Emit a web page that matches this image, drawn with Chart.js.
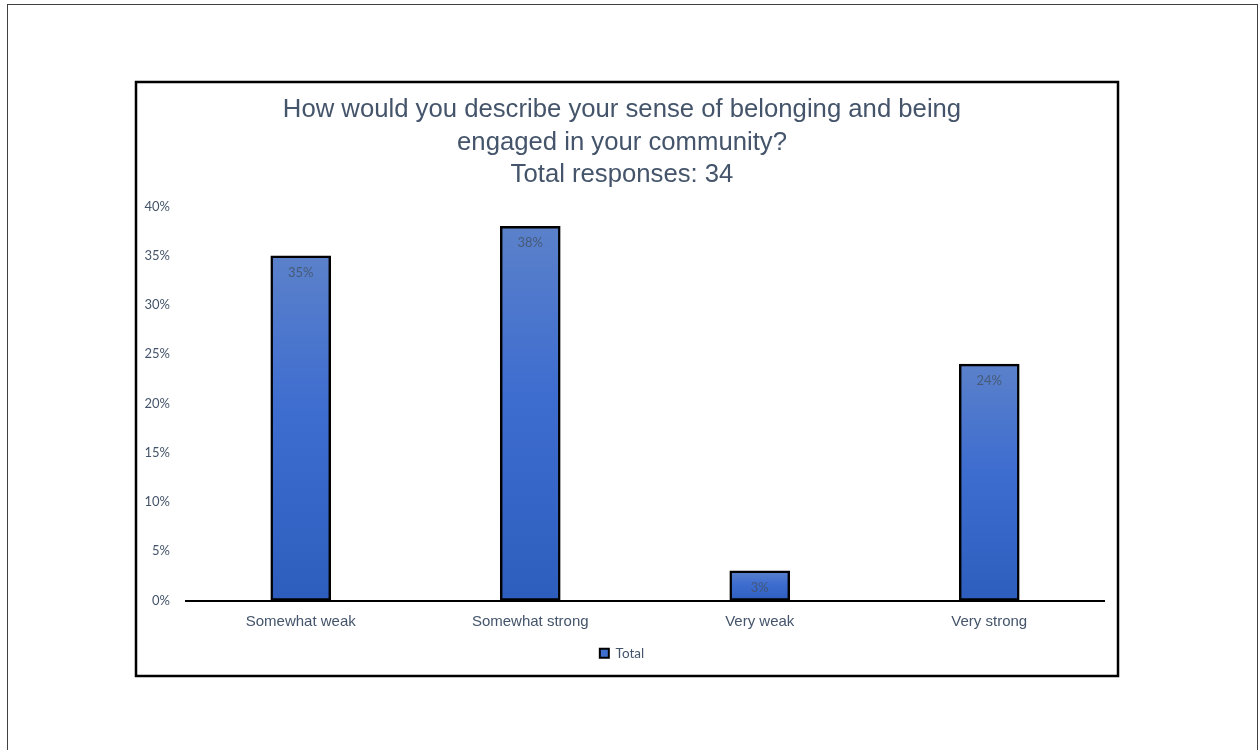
<!DOCTYPE html>
<html>
<head>
<meta charset="utf-8">
<script src="https://cdn.jsdelivr.net/npm/chart.js@4.4.1/dist/chart.umd.min.js"></script>
<style>
  html, body { margin: 0; padding: 0; background: #fff; }
  #wrap { width: 1259px; height: 750px; }
</style>
</head>
<body>
<div id="wrap"><canvas id="chart" width="1259" height="750"></canvas></div>
<script>
const categories = ["Somewhat weak", "Somewhat strong", "Very weak", "Very strong"];
const totals = [35, 38, 3, 24];
const yTicks = [0, 5, 10, 15, 20, 25, 30, 35, 40];
const titleLines = [
  "How would you describe your sense of belonging and being",
  "engaged in your community?",
  "Total responses: 34"
];

const TEXT = "#44546A";

// per-bar vertical gradient, lighter at the top
function barFill(ctx) {
  if (ctx.type !== "data") return "#3f6ecf";
  const chart = ctx.chart;
  if (!chart.chartArea) return "#3f6ecf";
  const y = chart.scales.y;
  const top = y.getPixelForValue(ctx.raw);
  const bottom = y.getPixelForValue(0);
  if (!(bottom > top)) return "#3f6ecf";
  const g = chart.ctx.createLinearGradient(0, top, 0, bottom);
  g.addColorStop(0, "#5b81ca");
  g.addColorStop(0.45, "#3e6dd0");
  g.addColorStop(1, "#2d5ebd");
  return g;
}

// page frame and chart box
const frame = {
  id: "frame",
  beforeDraw(chart) {
    const c = chart.ctx;
    c.save();
    c.fillStyle = "#fff";
    c.fillRect(0, 0, chart.width, chart.height);
    c.strokeStyle = "#404040";
    c.lineWidth = 1;
    c.strokeRect(7.5, 4.5, 1250, 760);
    c.strokeStyle = "#000";
    c.lineWidth = 2.5;
    c.strokeRect(136, 82, 982, 594);
    c.restore();
  }
};

// value labels just inside the top of each bar
const barLabels = {
  id: "barLabels",
  afterDatasetsDraw(chart) {
    const c = chart.ctx;
    const meta = chart.getDatasetMeta(0);
    c.save();
    c.font = "13px Lato, 'Open Sans', sans-serif";
    c.fillStyle = "rgba(68,84,106,0.85)";
    c.textAlign = "center";
    c.textBaseline = "middle";
    meta.data.forEach((bar, i) => {
      c.fillText(totals[i] + "%", bar.x, bar.y + 17);
    });
    c.restore();
  }
};

new Chart(document.getElementById("chart"), {
  type: "bar",
  data: {
    labels: categories,
    datasets: [{
      label: "Total",
      data: totals,
      backgroundColor: barFill,
      borderColor: "#000",
      borderWidth: 2.5,
      borderSkipped: false,
      barThickness: 60
    }]
  },
  options: {
    animation: false,
    responsive: false,
    layout: { padding: { left: 140, right: 155, top: 94, bottom: 80 } },
    scales: {
      x: {
        afterFit(scale) { scale.height = 38; },
        grid: { display: false, drawTicks: false },
        border: { display: true, color: "#000", width: 2 },
        ticks: {
          color: TEXT,
          padding: 12,
          font: { family: "'Liberation Sans', Arial, sans-serif", size: 15 }
        }
      },
      y: {
        min: 0,
        max: 40,
        afterFit(scale) { scale.width = 46; },
        afterBuildTicks(scale) { scale.ticks = yTicks.map(v => ({ value: v })); },
        grid: { display: false, drawTicks: false },
        border: { display: false },
        ticks: {
          color: TEXT,
          padding: 16,
          font: { family: "Lato, 'Open Sans', sans-serif", size: 13 },
          callback: v => v + "%"
        }
      }
    },
    plugins: {
      title: {
        display: true,
        text: titleLines,
        color: TEXT,
        font: { family: "'Liberation Sans', Arial, sans-serif", size: 25.7, weight: "normal", lineHeight: 1.265 },
        padding: { top: 0, bottom: 15 }
      },
      legend: {
        position: "bottom",
        labels: {
          color: TEXT,
          boxWidth: 9,
          boxHeight: 9,
          padding: 8,
          font: { family: "Lato, 'Open Sans', sans-serif", size: 13.5 },
          generateLabels() {
            return [{
              text: "Total",
              fillStyle: "#3f6ecf",
              strokeStyle: "#000",
              lineWidth: 2,
              fontColor: TEXT,
              datasetIndex: 0
            }];
          }
        }
      },
      tooltip: { enabled: false }
    }
  },
  plugins: [frame, barLabels]
});
</script>
</body>
</html>
